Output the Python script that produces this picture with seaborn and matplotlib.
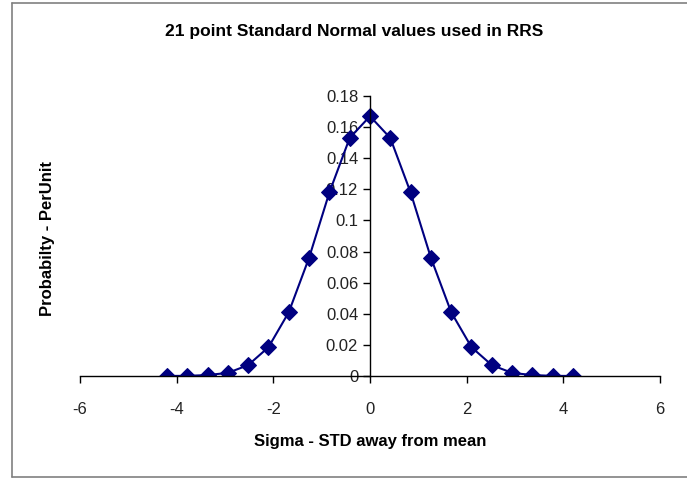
import matplotlib
matplotlib.use("Agg")
import matplotlib.pyplot as plt
import seaborn as sns
import pandas as pd

# 21 point standard normal values
sigma = [-4.2, -3.78, -3.36, -2.94, -2.52, -2.1, -1.68, -1.26, -0.84, -0.42, 0.0,
         0.42, 0.84, 1.26, 1.68, 2.1, 2.52, 2.94, 3.36, 3.78, 4.2]
prob = [0.00002, 0.0001, 0.0006, 0.002, 0.007, 0.0185, 0.041, 0.076, 0.118, 0.153, 0.167,
        0.153, 0.118, 0.076, 0.041, 0.0185, 0.007, 0.002, 0.0006, 0.0001, 0.00002]
xticks = [-6, -4, -2, 0, 2, 4, 6]
yticks = [0, 0.02, 0.04, 0.06, 0.08, 0.1, 0.12, 0.14, 0.16, 0.18]
ytick_labels = ["0", "0.02", "0.04", "0.06", "0.08", "0.1", "0.12", "0.14", "0.16", "0.18"]

df = pd.DataFrame({"sigma": sigma, "prob": prob})

sns.set_style("white")
plt.rcParams['font.family'] = ['Liberation Sans', 'DejaVu Sans']
plt.rcParams['text.color'] = 'black'

fig = plt.figure(figsize=(6.87, 4.78), dpi=100)
ax = fig.add_axes([0.1164, 0.2134, 0.8443, 0.5858])

navy = "#000080"
sns.lineplot(data=df, x="sigma", y="prob", ax=ax, color=navy, linewidth=1.5,
             marker="D", markersize=8, markeredgecolor=navy, markerfacecolor=navy)

ax.set_xlim(-6, 6)
ax.set_ylim(0, 0.18)
ax.set_xticks(xticks)
ax.set_xticklabels([str(t) for t in xticks])
ax.set_yticks(yticks)
ax.set_yticklabels(ytick_labels)

# Excel-style axes crossing at zero
ax.spines['left'].set_position(('data', 0))
ax.spines['right'].set_visible(False)
ax.spines['top'].set_visible(False)
for s in ['left', 'bottom']:
    ax.spines[s].set_color("black")
    ax.spines[s].set_linewidth(1.0)
ax.tick_params(axis='both', which='both', direction='out', length=5, width=1,
               color="black", labelsize=12, labelcolor="#222222",
               bottom=True, left=True)
ax.tick_params(axis='x', pad=14)

ax.set_xlabel("Sigma - STD away from mean", fontsize=12, fontweight="bold", labelpad=12,
              color="black")
ax.set_ylabel("")
fig.text(0.069, 0.5, "Probabilty - PerUnit", rotation=90, fontsize=12, fontweight="bold",
         ha="center", va="center", color="black")
fig.text(0.515, 0.935, "21 point Standard Normal values used in RRS", fontsize=12.5,
         fontweight="bold", ha="center", va="center", color="black")

# chart area border
fig.add_artist(plt.Line2D([0.0175, 0.0175], [0.002, 0.994], color="#808080", lw=1.2))
fig.add_artist(plt.Line2D([0.0175, 1.0], [0.994, 0.994], color="#808080", lw=1.2))
fig.add_artist(plt.Line2D([0.0175, 1.0], [0.003, 0.003], color="#808080", lw=1.2))

fig.savefig("out.png", dpi=100)
